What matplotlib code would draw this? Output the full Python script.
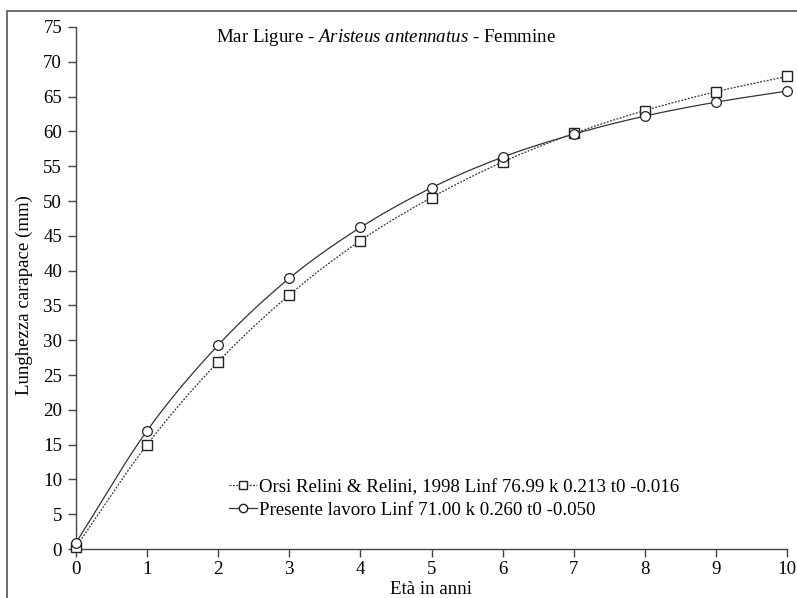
import numpy as np
import matplotlib
matplotlib.use("Agg")
import matplotlib.pyplot as plt
from matplotlib.lines import Line2D
from matplotlib.patches import Rectangle

plt.rcParams['font.family'] = ['Liberation Serif', 'DejaVu Serif']
plt.rcParams['mathtext.fontset'] = 'custom'
plt.rcParams['mathtext.rm'] = 'Liberation Serif'
plt.rcParams['mathtext.it'] = 'Liberation Serif:italic'

# Data
ages = [0, 1, 2, 3, 4, 5, 6, 7, 8, 9, 10]
orsi_relini = [0.3, 15.0, 26.9, 36.5, 44.3, 50.5, 55.6, 59.7, 63.0, 65.7, 67.9]
presente = [0.9, 17.0, 29.3, 38.9, 46.2, 51.9, 56.3, 59.6, 62.2, 64.2, 65.8]
label_orsi = "Orsi Relini & Relini, 1998 Linf 76.99 k 0.213 t0 -0.016"
label_pres = "Presente lavoro Linf 71.00 k 0.260 t0 -0.050"
yticks = list(range(0, 80, 5))
xticks = list(range(0, 11))


def smooth(x, y, n=20):
    """Catmull-Rom drawing of a line through the given points."""
    x = np.asarray(x, float)
    y = np.asarray(y, float)
    px = np.concatenate([[2 * x[0] - x[1]], x, [2 * x[-1] - x[-2]]])
    py = np.concatenate([[2 * y[0] - y[1]], y, [2 * y[-1] - y[-2]]])
    xs, ys = [], []
    t = np.linspace(0, 1, n, endpoint=False)
    for i in range(1, len(px) - 2):
        for arr, out in ((px, xs), (py, ys)):
            p0, p1, p2, p3 = arr[i - 1], arr[i], arr[i + 1], arr[i + 2]
            out.extend(0.5 * ((2 * p1) + (-p0 + p2) * t
                              + (2 * p0 - 5 * p1 + 4 * p2 - p3) * t ** 2
                              + (-p0 + 3 * p1 - 3 * p2 + p3) * t ** 3))
    xs.append(x[-1])
    ys.append(y[-1])
    return np.array(xs), np.array(ys)


W, H = 797, 598
FS = 13.6
fig = plt.figure(figsize=(W / 100, H / 100), dpi=100)
ax = fig.add_axes([76 / W, 1 - 549 / H, 711 / W, 522 / H])

# figure frame
fig.patches.append(Rectangle((7 / W, -0.1), 1.2, 1 - 11 / H + 0.1,
                             transform=fig.transFigure, fill=False,
                             edgecolor='#555555', linewidth=1.2))

lc = '#333333'
sx, sy = smooth(ages, orsi_relini)
ax.plot(sx, sy, color=lc, linestyle=(0, (1.5, 1.2)), linewidth=0.9, clip_on=False)
ax.plot(ages, orsi_relini, linestyle='none', marker='s', markersize=7,
        markerfacecolor='white', markeredgecolor='#222222', markeredgewidth=1.0,
        clip_on=False, zorder=5)
sx, sy = smooth(ages, presente)
ax.plot(sx, sy, color=lc, linestyle='-', linewidth=0.9, clip_on=False)
ax.plot(ages, presente, linestyle='none', marker='o', markersize=7,
        markerfacecolor='white', markeredgecolor='#222222', markeredgewidth=0.9,
        clip_on=False, zorder=5)

ax.set_xlim(0, 10)
ax.set_ylim(0, 75)
ax.set_xticks(xticks)
ax.set_yticks(yticks)
ax.tick_params(axis='both', direction='out', length=6, width=1.0,
               color='#444444', labelsize=FS)
ax.tick_params(axis='x', pad=3)
ax.tick_params(axis='y', pad=4)
for s in ('top', 'right'):
    ax.spines[s].set_visible(False)
for s in ('left', 'bottom'):
    ax.spines[s].set_color('#444444')
    ax.spines[s].set_linewidth(1.0)

fig.text(24 / W, 1 - 295 / H, "Lunghezza carapace (mm)", rotation=90,
         ha='center', va='center', fontsize=FS)
fig.text(431 / W, 1 - 589 / H, "Età in anni", ha='center', va='center',
         fontsize=FS)

fig.text(386 / W, 1 - 38 / H,
         r"Mar Ligure - $\mathit{Aristeus\ antennatus}$ - Femmine",
         ha='center', va='center', fontsize=FS)

handles = [
    Line2D([], [], color=lc, linestyle=(0, (1.5, 1.2)), linewidth=0.9,
           marker='s', markersize=6, markerfacecolor='white',
           markeredgecolor='#222222'),
    Line2D([], [], color=lc, linestyle='-', linewidth=0.9,
           marker='o', markersize=6, markerfacecolor='white',
           markeredgecolor='#222222'),
]
fig.legend(handles, [label_orsi, label_pres], loc='center left',
           bbox_to_anchor=(229 / W, 1 - 498.5 / H),
           frameon=False, fontsize=FS, handlelength=1.5, handletextpad=0.1,
           labelspacing=0.3, borderpad=0, borderaxespad=0)

fig.savefig("out.png", dpi=100)
